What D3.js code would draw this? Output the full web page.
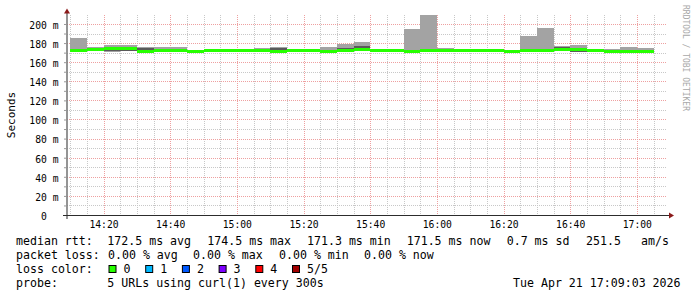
<!doctype html>
<html>
<head>
<meta charset="UTF-8">
<script src="https://cdnjs.cloudflare.com/ajax/libs/d3/7.8.5/d3.min.js"></script>
<style>
  body { margin: 0; background: #fff; }
  text { font-family: "DejaVu Sans Mono", monospace; }
</style>
</head>
<body>
<svg id="chart" width="697" height="297"></svg>
<script>

// 5 minute slots (start times)
var slots = ["14:10","14:15","14:20","14:25","14:30","14:35","14:40","14:45","14:50","14:55",
             "15:00","15:05","15:10","15:15","15:20","15:25","15:30","15:35","15:40","15:45",
             "15:50","15:55","16:00","16:05","16:10","16:15","16:20","16:25","16:30","16:35",
             "16:40","16:45","16:50","16:55","17:00"];

// sorted rtt per slot, ms (min, 2nd, median, 4th, max)
var pingMin  = [171.5,171.8,171.0,171.2,171.0,171.8,171.8,171.0,171.9,171.9,171.5,170.5,170.8,171.9,171.9,170.8,171.5,172.0,171.8,171.8,170.6,171.8,171.8,171.8,171.8,170.3,170.8,172.0,172.0,172.0,170.9,171.6,170.8,170.8,170.8];
var pingLow  = [172.0,172.3,171.2,171.5,171.2,172.2,172.2,171.2,172.1,172.1,171.7,171.5,171.0,172.1,172.1,171.0,171.8,172.4,172.0,172.0,171.0,172.0,172.0,172.0,172.0,171.5,171.0,172.3,172.3,172.4,171.0,171.8,171.0,171.0,171.2];
var median   = [172.4,172.8,174.5,174.0,171.5,172.6,172.6,171.4,172.4,172.4,172.0,172.0,171.4,172.5,172.5,171.3,172.2,172.8,172.3,172.3,171.3,172.3,172.3,172.3,172.3,172.0,171.3,172.7,172.7,172.8,173.3,172.0,171.3,171.3,171.5];
var pingHigh = [173.0,173.3,175.0,174.5,174.5,173.0,173.0,171.6,172.6,172.6,172.2,172.5,174.5,173.0,173.0,171.8,175.0,176.5,172.6,172.6,171.5,172.7,172.8,172.6,172.6,172.4,171.6,173.2,173.2,175.5,173.4,172.2,171.6,171.6,171.8];
var pingMax  = [185.5,176.0,178.0,178.0,175.5,176.0,176.0,171.8,172.8,172.8,172.4,175.0,176.3,174.0,174.0,175.4,179.4,181.5,173.5,173.5,194.8,209.4,175.0,173.2,173.0,172.8,172.0,187.8,195.8,176.5,178.2,172.4,174.0,176.0,174.5];

var yMajor = [0,20,40,60,80,100,120,140,160,180,200];
var yMinor = [10,30,50,70,90,110,130,150,170,190];
var xMajor = ["14:20","14:40","15:00","15:20","15:40","16:00","16:20","16:40","17:00"];
var timeRange = ["14:09:03","17:09:03"];

var lossLabels = ["0","1","2","3","4","5/5"];
var lossColors = ["#26ff00","#00b8ff","#0059ff","#7e00ff","#ff0000","#a10000"];

var legendRtt  = ["median rtt:","172.5 ms avg","174.5 ms max","171.3 ms min","171.5 ms now","0.7 ms sd","251.5","am/s"];
var legendLoss = ["packet loss:","0.00 % avg","0.00 % max","0.00 % min","0.00 % now"];
var legendProbe = ["probe:","5 URLs using curl(1) every 300s"];
var stamp = "Tue Apr 21 17:09:03 2026";

var svg = d3.select("#chart");
var plotLeft = 67, plotTop = 15, plotW = 600, plotH = 200;
var plotBottom = plotTop + plotH;

var parseT = d3.timeParse("%H:%M:%S");
var parseHM = d3.timeParse("%H:%M");
var x = d3.scaleTime().domain(timeRange.map(parseT)).range([plotLeft, plotLeft + plotW]);
var y = d3.scaleLinear().domain([0, d3.max(pingMax)]).range([plotBottom, plotTop]);

var rows = slots.map(function(s, i) {
  var t0 = parseHM(s);
  return {t0: t0, t1: d3.timeMinute.offset(t0, 5),
          min: pingMin[i], low: pingLow[i], med: median[i], high: pingHigh[i], max: pingMax[i]};
});

// grid
var g = svg.append("g");
var minorTimes = d3.timeMinute.every(5).range(x.domain()[0], x.domain()[1]);
var majorSet = xMajor.map(function(s){ return +parseHM(s); });
function px(v){ return Math.round(v) + 0.5; }
g.selectAll(".vmin").data(minorTimes.filter(function(t){ return majorSet.indexOf(+t) < 0; }))
  .enter().append("line")
  .attr("x1", function(d){ return px(x(d)); })
  .attr("x2", function(d){ return px(x(d)); })
  .attr("y1", plotTop).attr("y2", plotBottom)
  .attr("stroke", "#c8c8c8").attr("stroke-dasharray", "1,1");
g.selectAll(".hmin").data(yMinor).enter().append("line")
  .attr("x1", plotLeft).attr("x2", plotLeft + plotW)
  .attr("y1", function(d){ return px(y(d)); })
  .attr("y2", function(d){ return px(y(d)); })
  .attr("stroke", "#c8c8c8").attr("stroke-dasharray", "1,1");
g.selectAll(".vmaj").data(xMajor.map(parseHM)).enter().append("line")
  .attr("x1", function(d){ return px(x(d)); })
  .attr("x2", function(d){ return px(x(d)); })
  .attr("y1", plotTop).attr("y2", plotBottom)
  .attr("stroke", "#eea0a0").attr("stroke-dasharray", "1,1");
g.selectAll(".hmaj").data(yMajor.slice(1)).enter().append("line")
  .attr("x1", plotLeft).attr("x2", plotLeft + plotW)
  .attr("y1", function(d){ return px(y(d)); })
  .attr("y2", function(d){ return px(y(d)); })
  .attr("stroke", "#eea0a0").attr("stroke-dasharray", "1,1");

// smoke
var plot = svg.append("g");
plot.selectAll(".smoke1").data(rows).enter().append("rect")
  .attr("x", function(d){ return x(d.t0); })
  .attr("width", function(d){ return x(d.t1) - x(d.t0); })
  .attr("y", function(d){ return y(d.max); })
  .attr("height", function(d){ return y(d.min) - y(d.max); })
  .attr("fill", "#a3a3a3").attr("shape-rendering", "crispEdges");
plot.selectAll(".smoke2").data(rows).enter().append("rect")
  .attr("x", function(d){ return x(d.t0); })
  .attr("width", function(d){ return x(d.t1) - x(d.t0); })
  .attr("y", function(d){ return y(d.high); })
  .attr("height", function(d){ return y(d.low) - y(d.high); })
  .attr("fill", "#5a5a5a").attr("shape-rendering", "crispEdges");
plot.selectAll(".med").data(rows).enter().append("rect")
  .attr("x", function(d){ return x(d.t0); })
  .attr("width", function(d){ return x(d.t1) - x(d.t0); })
  .attr("y", function(d){ return y(d.med) - 1.5; })
  .attr("height", 3)
  .attr("fill", lossColors[0]).attr("shape-rendering", "crispEdges");

// y axis
var yAxis = d3.axisLeft(y).tickValues(yMajor.concat(yMinor)).tickSize(2).tickPadding(5.5)
  .tickFormat(function(d){ return yMajor.indexOf(d) < 0 ? "" : (d === 0 ? "0\u00a0\u00a0" : d + "\u00a0m"); });
var ya = svg.append("g").attr("transform", "translate(" + (plotLeft - 1) + ",0)").call(yAxis);
ya.select(".domain").remove();
ya.selectAll("line").attr("stroke", "#999");
ya.selectAll("text").attr("dy", "0.45em").style("font-size", "9.7px").style("font-family", "DejaVu Sans Mono");

// x axis
var xAxis = d3.axisBottom(x).tickValues(xMajor.map(parseHM)).tickSize(0).tickPadding(6.5)
  .tickFormat(d3.timeFormat("%H:%M"));
var xa = svg.append("g").attr("transform", "translate(0," + plotBottom + ")").call(xAxis);
xa.select(".domain").remove();
xa.selectAll("text").style("font-size", "9.7px").style("font-family", "DejaVu Sans Mono");

// axis lines + arrows
svg.append("line").attr("x1", plotLeft).attr("x2", plotLeft).attr("y1", plotBottom + 4).attr("y2", plotTop - 3)
  .attr("stroke", "#7a7a7a").attr("stroke-width", 1.6);
svg.append("line").attr("x1", plotLeft - 4).attr("x2", plotLeft + plotW + 3)
  .attr("y1", plotBottom + 0.5).attr("y2", plotBottom + 0.5)
  .attr("stroke", "#2c2c2c");
svg.append("path").attr("d", "M" + plotLeft + "," + (plotTop - 6.5) + "L" + (plotLeft - 3) + "," + (plotTop - 1.5) + "L" + (plotLeft + 3) + "," + (plotTop - 1.5) + "Z")
  .attr("fill", "#8b1a1a");
svg.append("path").attr("d", "M" + (plotLeft + plotW + 7) + "," + (plotBottom + 0.5) + "L" + (plotLeft + plotW + 2) + "," + (plotBottom - 2.5) + "L" + (plotLeft + plotW + 2) + "," + (plotBottom + 3.5) + "Z")
  .attr("fill", "#8b1a1a");

// axis title + watermark
svg.append("text").attr("transform", "translate(15," + (plotTop + plotH / 2) + ")rotate(-90)")
  .attr("text-anchor", "middle").style("font-size", "11px").text("Seconds");
svg.append("text").attr("transform", "translate(683,5)rotate(90)")
  .style("font-size", "8px").attr("fill", "#a8a8a8").text("RRDTOOL / TOBI OETIKER");

// legend
var legend = svg.append("g").style("font-size", "11.6px");
var rttX = [16, 107.3, 207.3, 307, 406.7, 506.7, 586, 641];
legend.selectAll(".l1").data(legendRtt).enter().append("text")
  .attr("x", function(d, i){ return rttX[i]; }).attr("y", 245).text(function(d){ return d; });
var lossX = [16, 108, 193, 279, 364];
legend.selectAll(".l2").data(legendLoss).enter().append("text")
  .attr("x", function(d, i){ return lossX[i]; }).attr("y", 259).text(function(d){ return d; });
legend.append("text").attr("x", 16).attr("y", 273).text("loss color:");
var sw = legend.selectAll(".sw").data(lossLabels).enter().append("g")
  .attr("transform", function(d, i){ return "translate(" + (109 + i * 36.7) + ",0)"; });
sw.append("rect").attr("x", 0).attr("y", 265.5).attr("width", 7).attr("height", 7)
  .attr("fill", function(d, i){ return lossColors[i]; }).attr("stroke", "#000");
sw.append("text").attr("x", 14.5).attr("y", 273).text(function(d){ return d; });
var probeX = [16, 107.3];
legend.selectAll(".l4").data(legendProbe).enter().append("text")
  .attr("x", function(d, i){ return probeX[i]; }).attr("y", 287).text(function(d){ return d; });
legend.append("text").attr("x", 513).attr("y", 287).text(stamp);

</script>
</body>
</html>
